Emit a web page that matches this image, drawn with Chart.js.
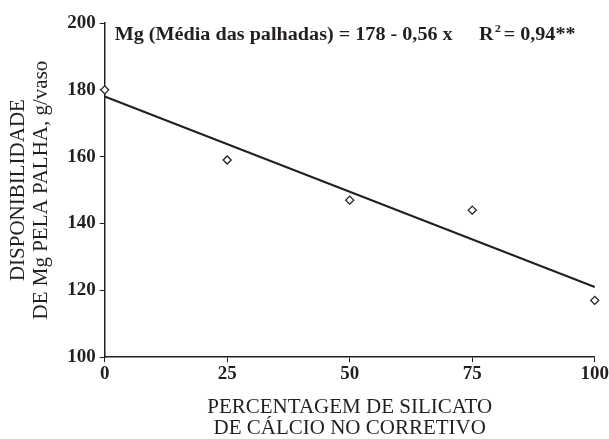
<!DOCTYPE html>
<html>
<head>
<meta charset="utf-8">
<script src="https://cdn.jsdelivr.net/npm/chart.js@4/dist/chart.umd.min.js"></script>
<style>
  html, body { margin: 0; padding: 0; background: #fff; }
  #wrap { width: 609px; height: 439px; }
</style>
</head>
<body>
<div id="wrap"><canvas id="grafico"></canvas></div>
<script>
const percentSilicato = [0, 25, 50, 75, 100];
const mgObservado = [180, 159, 147, 144, 117];
const retaX = [0, 100];
const retaY = [178, 121];
const equacao = 'Mg (Média das palhadas) = 178 - 0,56 x';
const r2Texto = '= 0,94**';

const serif = "'Liberation Serif', 'Times New Roman', serif";

const textoEquacao = {
    id: 'textoEquacao',
    afterDraw(chart) {
        const c = chart.ctx;
        const xs = chart.scales.x;
        const ys = chart.scales.y;
        c.save();
        c.fillStyle = '#231f20';
        c.textBaseline = 'alphabetic';
        const py = ys.top + 17;
        // texto levemente alargado como no original
        c.save();
        c.translate(xs.left + 10, py);
        c.scale(1.12, 1);
        c.font = 'bold 18px ' + serif;
        c.fillText(equacao, 0, 0);
        c.restore();

        c.save();
        c.translate(479, py);
        c.scale(1.12, 1);
        c.font = 'bold 18px ' + serif;
        c.fillText('R', 0, 0);
        const w = c.measureText('R').width;
        c.font = 'bold 11px ' + serif;
        c.fillText('2', w + 1, -8);
        c.font = 'bold 18px ' + serif;
        c.fillText(r2Texto, w + 9, 0);
        c.restore();
        c.restore();
    }
};

const ctx = document.getElementById('grafico').getContext('2d');
const grafico = new Chart(ctx, {
    type: 'scatter',
    data: {
        datasets: [{
            label: 'Observado',
            data: percentSilicato.map((x, i) => ({ x: x, y: mgObservado[i] })),
            pointStyle: 'rectRot',
            pointRadius: 4,
            pointBorderColor: '#231f20',
            pointBackgroundColor: '#fff',
            pointBorderWidth: 1.3,
            showLine: false,
            clip: false
        }, {
            label: 'Regressão',
            data: retaX.map((x, i) => ({ x: x, y: retaY[i] })),
            showLine: true,
            borderColor: '#231f20',
            borderWidth: 2,
            pointRadius: 0,
            clip: false
        }]
    },
    options: {
        responsive: true,
        maintainAspectRatio: false,
        animation: false,
        layout: { padding: { top: 23, right: 0, left: 7, bottom: 0 } },
        plugins: {
            legend: { display: false },
            tooltip: { enabled: false }
        },
        scales: {
            x: {
                type: 'linear',
                min: 0,
                max: 100,
                ticks: {
                    stepSize: 25,
                    color: '#231f20',
                    font: { family: serif, size: 19, weight: 'bold' },
                    padding: 0
                },
                grid: { display: true, drawOnChartArea: false, tickLength: 5, color: '#231f20' },
                border: { color: '#231f20', width: 1.5 },
                title: {
                    display: true,
                    text: ['PERCENTAGEM DE SILICATO', 'DE CÁLCIO NO CORRETIVO'],
                    color: '#231f20',
                    font: { family: serif, size: 21, lineHeight: 1.0 },
                    padding: { top: 12, bottom: 0 }
                }
            },
            y: {
                min: 100,
                max: 200,
                ticks: {
                    stepSize: 20,
                    color: '#231f20',
                    font: { family: serif, size: 19, weight: 'bold' },
                    padding: 4
                },
                grid: { display: true, drawOnChartArea: false, tickLength: 5, color: '#231f20' },
                border: { color: '#231f20', width: 1.5 },
                title: {
                    display: true,
                    text: ['DISPONIBILIDADE', 'DE Mg PELA PALHA, g/vaso'],
                    color: '#231f20',
                    font: { family: serif, size: 21, lineHeight: 1.1 },
                    padding: { top: 0, bottom: 10 }
                }
            }
        }
    },
    plugins: [textoEquacao]
});
</script>
</body>
</html>
